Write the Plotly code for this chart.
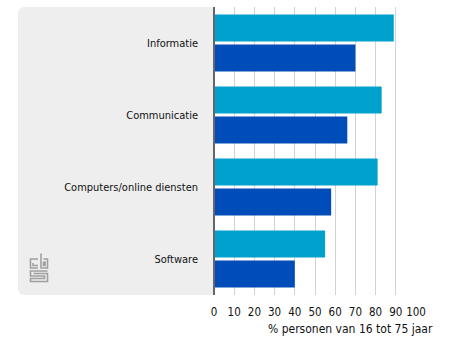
import plotly.graph_objects as go

categories = ["Informatie", "Communicatie", "Computers/online diensten", "Software"]
series_a_name = "Groep 1"
series_a = [89, 83, 81, 55]
series_b_name = "Groep 2"
series_b = [70, 66, 58, 40]
x_ticks = [0, 10, 20, 30, 40, 50, 60, 70, 80, 90, 100]
x_title = "% personen van 16 tot 75 jaar"

W, H = 469, 342
L, R, T, B = 214, 416, 7, 295

def px(x):
    return (x - L) / (R - L)

def py(y):
    return (B - y) / (B - T)

FONT = "DejaVu Sans Condensed, DejaVu Sans, sans-serif"

fig = go.Figure()
fig.add_trace(go.Bar(y=categories, x=series_a, name=series_a_name, orientation="h",
                     marker=dict(color="#00a1cd", line=dict(width=0))))
fig.add_trace(go.Bar(y=categories, x=series_b, name=series_b_name, orientation="h",
                     marker=dict(color="#004cb8", line=dict(width=0))))

# rounded grey panel behind the category labels
r = 7
x0, x1, y0, y1 = 18, L, T, B
path = (f"M {px(x1)},{py(y0)} L {px(x0 + r)},{py(y0)} "
        f"Q {px(x0)},{py(y0)} {px(x0)},{py(y0 + r)} "
        f"L {px(x0)},{py(y1 - r)} Q {px(x0)},{py(y1)} {px(x0 + r)},{py(y1)} "
        f"L {px(x1)},{py(y1)} Z")
shapes = [dict(type="path", xref="paper", yref="paper", path=path,
               fillcolor="#eeeeee", line=dict(width=0), layer="below"),
          dict(type="line", xref="paper", yref="paper", x0=0, x1=0, y0=0, y1=1,
               line=dict(color="#666666", width=2), layer="above")]

# cbs logo (decorative)
def seg(pts):
    d = "M " + " L ".join(f"{px(a)},{py(b)}" for a, b in pts)
    return dict(type="path", xref="paper", yref="paper", path=d,
                line=dict(color="#a0a0a0", width=1.6), layer="above")

logo = [
    [(38, 259), (30.5, 259), (30.5, 268), (38, 268)],
    [(33, 263), (33, 265.5), (38, 265.5)],
    [(41, 253.5), (41, 268), (47.5, 268), (47.5, 259), (43.5, 259)],
    [(43.5, 262), (45, 262), (45, 265.5), (43.5, 265.5), (43.5, 262)],
    [(47.5, 271), (30.5, 271), (30.5, 276), (44.5, 276), (44.5, 278.5), (30.5, 278.5), (30.5, 281.5), (47.5, 281.5), (47.5, 273.5), (33.5, 273.5)],
]
for p in logo:
    shapes.append(seg(p))

fig.update_layout(
    width=W, height=H,
    margin=dict(l=L, r=W - R, t=T, b=H - B, pad=0),
    paper_bgcolor="white", plot_bgcolor="rgba(0,0,0,0)",
    barmode="group", bargap=0.167, bargroupgap=0.1,
    showlegend=False,
    font=dict(family=FONT, size=11, color="#111111"),
    shapes=shapes,
    xaxis=dict(range=[0, 100], tickvals=x_ticks, showgrid=True, gridcolor="#d2d2d2",
               gridwidth=1, zeroline=False, showline=False, ticks="",
               ticklabelstandoff=8, tickfont=dict(size=11.5), fixedrange=True),
    yaxis=dict(autorange="reversed", showgrid=False, zeroline=False, showline=False,
               ticks="", ticklabelstandoff=15, tickfont=dict(size=11)),
    annotations=[dict(text=x_title, xref="paper", yref="paper", x=px(435), y=py(328.5),
                      xanchor="right", yanchor="middle", showarrow=False,
                      font=dict(size=12, family=FONT, color="#111111"))],
)

fig.write_html("out.html")
